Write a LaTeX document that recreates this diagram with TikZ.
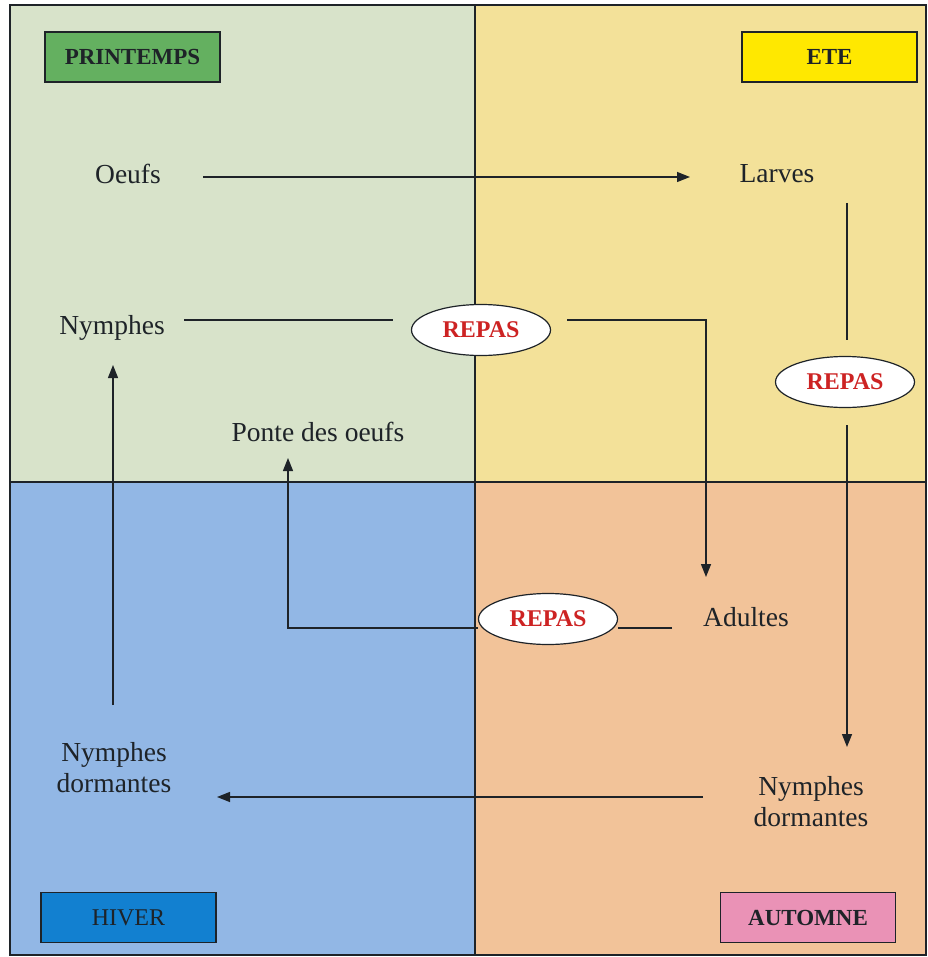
\documentclass[tikz,border=0pt]{standalone}
\usepackage{fontspec}
\setmainfont{Liberation Serif}
\usetikzlibrary{arrows.meta,shapes.geometric}
\definecolor{qtl}{RGB}{216,227,202}
\definecolor{qtr}{RGB}{243,225,153}
\definecolor{qbl}{RGB}{146,183,229}
\definecolor{qbr}{RGB}{242,195,153}
\definecolor{cprin}{RGB}{100,176,96}
\definecolor{cete}{RGB}{255,232,0}
\definecolor{chiv}{RGB}{18,128,208}
\definecolor{caut}{RGB}{234,146,182}
\definecolor{crepas}{RGB}{205,35,35}
\definecolor{ink}{RGB}{30,35,40}
\tikzset{
  lbl/.style={text=ink,font=\fontsize{27.5}{31}\selectfont,align=center,inner sep=0pt},
  season/.style={draw=ink,line width=1.3pt,minimum width=175pt,minimum height=50pt,inner sep=0pt,text=ink,font=\fontsize{23}{27}\selectfont\bfseries},
  repas/.style={ellipse,draw=ink,line width=1.2pt,fill=white,minimum width=139pt,minimum height=51pt,inner sep=0pt,text=crepas,font=\fontsize{24}{28}\selectfont\bfseries},
  conn/.style={draw=ink,line width=1.4pt},
  arr/.style={conn,-{Triangle[length=13pt,width=10pt]}}
}
\begin{document}
\begin{tikzpicture}[x=1pt,y=-1pt]
\useasboundingbox (0,0) rectangle (927,957);
\fill[white] (0,0) rectangle (927,957);
% quadrants
\fill[qtl] (10,5) rectangle (475,482);
\fill[qtr] (475,5) rectangle (926,482);
\fill[qbl] (10,482) rectangle (475,955);
\fill[qbr] (475,482) rectangle (926,955);
\draw[ink,line width=1.3pt] (10,5) rectangle (926,955);
\draw[ink,line width=1.3pt] (475,5) -- (475,955);
\draw[ink,line width=1.3pt] (10,482) -- (926,482);
% season labels
\node[season,fill=cprin] (prin) at (132.5,57) {PRINTEMPS};
\node[season,fill=cete] (ete) at (829.5,57) {ETE};
\node[season,fill=chiv,font=\fontsize{24}{28}\selectfont] (hiv) at (128.5,917.5) {HIVER};
\node[season,fill=caut] (aut) at (808,917.5) {AUTOMNE};
% stage labels
\node[lbl] (oeufs) at (128,174) {Oeufs};
\node[lbl] (larves) at (777,174) {Larves};
\node[lbl] (nymTL) at (112,328) {Nymphes};
\node[lbl] (ponte) at (318,432) {Ponte des oeufs};
\node[lbl] (adultes) at (746,617) {Adultes};
\node[lbl] (ndL) at (114,768) {Nymphes\\dormantes};
\node[lbl] (ndR) at (811,802) {Nymphes\\dormantes};
% meals
\node[repas] (r1) at (481,330) {REPAS};
\node[repas] (r2) at (845,382) {REPAS};
\node[repas] (r3) at (548,619) {REPAS};
% coordinates for bends
\coordinate (b1) at (706,320);
\coordinate (b2) at (288,628);
% connectors
\draw[arr] (203,177) coordinate (o1) -- (690,177) coordinate (o2);
\draw[conn] (847,203) coordinate (l1) -- (847,340) coordinate (l2);
\draw[arr] (847,425) coordinate (l3) -- (847,747) coordinate (l4);
\draw[conn] (184,320) coordinate (n1) -- (393,320) coordinate (n2);
\draw[arr] (567,320) coordinate (n3) -- (b1) -- (706,577) coordinate (n4);
\draw[conn] (672,628) coordinate (a1) -- (r3.east |- a1);
\draw[arr] (r3.west |- a1) -- (b2) -- (288,458) coordinate (p1);
\draw[arr] (703,797) coordinate (d1) -- (217,797) coordinate (d2);
\draw[arr] (113,705) coordinate (e1) -- (113,365) coordinate (e2);
\end{tikzpicture}
\end{document}
